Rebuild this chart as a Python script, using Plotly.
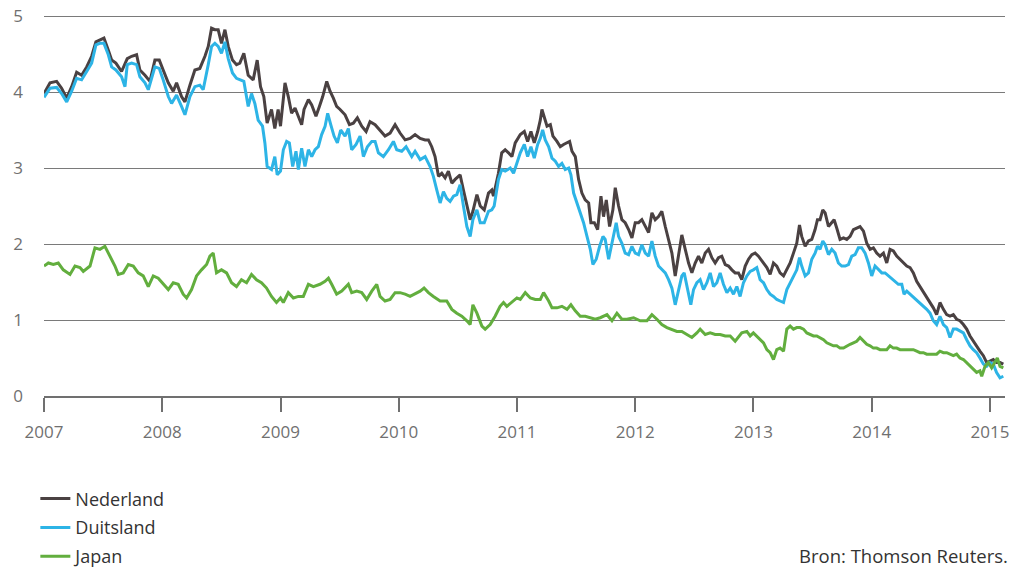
import plotly.graph_objects as go

# ---- Data (10-year government bond yields, %) ----
nl_x = [2007.00, 2007.051, 2007.107, 2007.149, 2007.192, 2007.234, 2007.276, 2007.318, 2007.361, 2007.403,
        2007.439, 2007.473, 2007.507, 2007.544, 2007.572, 2007.608, 2007.656, 2007.704, 2007.741, 2007.783,
        2007.811, 2007.854, 2007.896, 2007.938, 2007.975, 2008.008, 2008.051, 2008.093, 2008.121, 2008.163,
        2008.192, 2008.234, 2008.276, 2008.318, 2008.361, 2008.389, 2008.417, 2008.445, 2008.473, 2008.501,
        2008.530, 2008.558, 2008.594, 2008.628, 2008.656, 2008.690, 2008.727, 2008.769, 2008.803, 2008.831,
        2008.859, 2008.887, 2008.924, 2008.952, 2008.980,
        2009.000, 2009.038, 2009.066, 2009.094, 2009.123, 2009.151, 2009.179, 2009.199, 2009.236, 2009.264,
        2009.300, 2009.329, 2009.357, 2009.391, 2009.419, 2009.447, 2009.475, 2009.504, 2009.546, 2009.583,
        2009.616, 2009.650, 2009.687, 2009.724, 2009.757, 2009.800, 2009.842, 2009.884, 2009.927, 2009.969,
        2010.011, 2010.054, 2010.096, 2010.138, 2010.181, 2010.223, 2010.251, 2010.279, 2010.307, 2010.336,
        2010.364, 2010.392, 2010.420, 2010.449, 2010.477, 2010.519, 2010.547, 2010.576, 2010.604, 2010.627,
        2010.661, 2010.689, 2010.723, 2010.759, 2010.787, 2010.801, 2010.843, 2010.871, 2010.900, 2010.928,
        2010.957, 2010.985,
        2011.028, 2011.062, 2011.090, 2011.118, 2011.146, 2011.175, 2011.197, 2011.211, 2011.231, 2011.254,
        2011.282, 2011.304, 2011.338, 2011.366, 2011.394, 2011.423, 2011.445, 2011.465, 2011.493, 2011.521,
        2011.549, 2011.577, 2011.606, 2011.625, 2011.654, 2011.682, 2011.710, 2011.732, 2011.755, 2011.783,
        2011.811, 2011.831, 2011.859, 2011.887, 2011.915, 2011.944, 2011.972, 2012.000, 2012.028, 2012.056,
        2012.085, 2012.113, 2012.141, 2012.169, 2012.197, 2012.225, 2012.254, 2012.282, 2012.310, 2012.338,
        2012.366, 2012.394, 2012.423, 2012.451, 2012.479, 2012.507, 2012.535, 2012.563, 2012.592, 2012.620,
        2012.648, 2012.676, 2012.704, 2012.732, 2012.761, 2012.789, 2012.817, 2012.845, 2012.873, 2012.901,
        2012.930, 2012.958, 2012.986, 2013.014, 2013.042,
        2013.085, 2013.113, 2013.141, 2013.169, 2013.197, 2013.225, 2013.254, 2013.282, 2013.310, 2013.338,
        2013.366, 2013.389, 2013.408, 2013.437, 2013.465, 2013.493, 2013.521, 2013.541, 2013.563, 2013.586,
        2013.606, 2013.634, 2013.662, 2013.682, 2013.704, 2013.732, 2013.761, 2013.789, 2013.817, 2013.845,
        2013.873, 2013.901, 2013.930, 2013.958, 2013.986, 2014.014, 2014.042, 2014.070, 2014.099, 2014.127,
        2014.155, 2014.183, 2014.211, 2014.239, 2014.268, 2014.296, 2014.324, 2014.352, 2014.380, 2014.408,
        2014.437, 2014.465, 2014.493, 2014.521, 2014.549, 2014.577, 2014.606, 2014.634, 2014.662, 2014.690,
        2014.718, 2014.746, 2014.775, 2014.803, 2014.831, 2014.859, 2014.887, 2014.915, 2014.944, 2014.972,
        2015.000, 2015.028, 2015.056, 2015.085, 2015.113]
nl_y = [3.98, 4.12, 4.14, 4.05, 3.92, 4.07, 4.26, 4.22, 4.33, 4.47,
        4.66, 4.69, 4.71, 4.55, 4.42, 4.38, 4.27, 4.44, 4.47, 4.49,
        4.29, 4.22, 4.14, 4.42, 4.42, 4.29, 4.12, 4.01, 4.12, 3.94,
        3.87, 4.09, 4.29, 4.31, 4.47, 4.60, 4.84, 4.82, 4.82, 4.64,
        4.82, 4.60, 4.42, 4.36, 4.38, 4.51, 4.22, 4.16, 4.42, 4.07,
        3.94, 3.59, 3.77, 3.52, 3.77,
        3.55, 4.12, 3.94, 3.72, 3.79, 3.68, 3.57, 3.77, 3.90, 3.83,
        3.68, 3.81, 3.94, 4.14, 4.01, 3.92, 3.81, 3.77, 3.70, 3.57,
        3.59, 3.66, 3.55, 3.48, 3.61, 3.57, 3.50, 3.42, 3.46, 3.57,
        3.46, 3.37, 3.39, 3.44, 3.39, 3.37, 3.37, 3.28, 3.15, 2.89,
        2.93, 2.87, 2.96, 2.80, 2.85, 2.91, 2.71, 2.50, 2.32, 2.43,
        2.65, 2.50, 2.45, 2.67, 2.71, 2.63, 2.93, 3.20, 3.24, 3.20,
        3.15, 3.33,
        3.44, 3.48, 3.35, 3.48, 3.33, 3.48, 3.63, 3.77, 3.68, 3.55,
        3.57, 3.42, 3.35, 3.28, 3.31, 3.33, 3.35, 3.22, 3.15, 2.85,
        2.67, 2.58, 2.54, 2.28, 2.28, 2.19, 2.63, 2.36, 2.58, 2.23,
        2.45, 2.74, 2.50, 2.32, 2.28, 2.19, 2.08, 2.28, 2.28, 2.32,
        2.23, 2.15, 2.41, 2.32, 2.36, 2.43, 2.23, 2.06, 1.88, 1.58,
        1.84, 2.12, 1.93, 1.75, 1.62, 1.75, 1.84, 1.75, 1.88, 1.93,
        1.82, 1.75, 1.82, 1.84, 1.73, 1.71, 1.66, 1.62, 1.62, 1.53,
        1.71, 1.80, 1.86, 1.88, 1.84,
        1.75, 1.69, 1.60, 1.75, 1.71, 1.62, 1.58, 1.66, 1.75, 1.88,
        2.01, 2.25, 2.10, 1.97, 2.04, 2.06, 2.19, 2.32, 2.32, 2.45,
        2.41, 2.23, 2.28, 2.32, 2.21, 2.06, 2.08, 2.06, 2.10, 2.19,
        2.21, 2.23, 2.17, 2.01, 1.93, 1.95, 1.88, 1.84, 1.88, 1.75,
        1.93, 1.91, 1.84, 1.80, 1.75, 1.71, 1.69, 1.62, 1.51, 1.44,
        1.38, 1.31, 1.23, 1.16, 1.07, 1.23, 1.14, 1.07, 1.05, 1.07,
        1.01, 0.99, 0.94, 0.88, 0.79, 0.72, 0.66, 0.59, 0.53, 0.44,
        0.46, 0.48, 0.44, 0.44, 0.42]

de_x = [2007.00, 2007.051, 2007.107, 2007.149, 2007.192, 2007.234, 2007.276, 2007.318, 2007.361, 2007.403,
        2007.439, 2007.473, 2007.507, 2007.544, 2007.572, 2007.608, 2007.656, 2007.685, 2007.704, 2007.741,
        2007.783, 2007.811, 2007.854, 2007.882, 2007.938, 2007.975, 2008.008, 2008.051, 2008.079, 2008.121,
        2008.163, 2008.192, 2008.234, 2008.276, 2008.318, 2008.346, 2008.389, 2008.417, 2008.445, 2008.473,
        2008.501, 2008.530, 2008.558, 2008.594, 2008.628, 2008.656, 2008.690, 2008.727, 2008.755, 2008.783,
        2008.811, 2008.848, 2008.868, 2008.887, 2008.924, 2008.952, 2008.972,
        2009.000, 2009.024, 2009.052, 2009.075, 2009.103, 2009.131, 2009.151, 2009.179, 2009.207, 2009.236,
        2009.264, 2009.292, 2009.320, 2009.348, 2009.377, 2009.399, 2009.425, 2009.453, 2009.481, 2009.509,
        2009.546, 2009.574, 2009.602, 2009.639, 2009.673, 2009.701, 2009.735, 2009.772, 2009.800, 2009.828,
        2009.870, 2009.913, 2009.955, 2009.983, 2010.025, 2010.062, 2010.110, 2010.138, 2010.181, 2010.223,
        2010.265, 2010.293, 2010.322, 2010.350, 2010.378, 2010.406, 2010.434, 2010.463, 2010.491, 2010.519,
        2010.547, 2010.576, 2010.604, 2010.627, 2010.661, 2010.689, 2010.723, 2010.759, 2010.787, 2010.807,
        2010.843, 2010.871, 2010.900, 2010.943, 2010.971,
        2011.028, 2011.062, 2011.090, 2011.118, 2011.146, 2011.175, 2011.197, 2011.217, 2011.239, 2011.268,
        2011.296, 2011.324, 2011.352, 2011.380, 2011.408, 2011.437, 2011.456, 2011.479, 2011.507, 2011.535,
        2011.563, 2011.592, 2011.620, 2011.642, 2011.670, 2011.699, 2011.727, 2011.746, 2011.775, 2011.803,
        2011.839, 2011.859, 2011.887, 2011.915, 2011.944, 2011.972, 2012.000, 2012.028, 2012.056, 2012.085,
        2012.113, 2012.141, 2012.169, 2012.197, 2012.225, 2012.254, 2012.282, 2012.310, 2012.338, 2012.366,
        2012.394, 2012.414, 2012.437, 2012.470, 2012.493, 2012.521, 2012.549, 2012.577, 2012.606, 2012.634,
        2012.662, 2012.690, 2012.718, 2012.746, 2012.775, 2012.803, 2012.831, 2012.859, 2012.887, 2012.915,
        2012.944, 2012.972, 2012.999, 2013.028, 2013.056,
        2013.085, 2013.113, 2013.141, 2013.169, 2013.197, 2013.225, 2013.254, 2013.282, 2013.310, 2013.338,
        2013.366, 2013.389, 2013.408, 2013.437, 2013.465, 2013.493, 2013.521, 2013.541, 2013.563, 2013.586,
        2013.606, 2013.634, 2013.662, 2013.690, 2013.718, 2013.746, 2013.775, 2013.803, 2013.831, 2013.859,
        2013.887, 2013.915, 2013.944, 2013.972, 2014.000, 2014.028, 2014.056, 2014.085, 2014.113, 2014.141,
        2014.169, 2014.197, 2014.225, 2014.254, 2014.273, 2014.296, 2014.324, 2014.352, 2014.380, 2014.408,
        2014.437, 2014.465, 2014.493, 2014.521, 2014.549, 2014.577, 2014.606, 2014.634, 2014.662, 2014.690,
        2014.718, 2014.746, 2014.775, 2014.803, 2014.831, 2014.859, 2014.887, 2014.915, 2014.944, 2014.972,
        2015.000, 2015.028, 2015.056, 2015.085, 2015.113]
de_y = [3.93, 4.05, 4.06, 3.98, 3.87, 4.01, 4.18, 4.16, 4.27, 4.38,
        4.62, 4.64, 4.64, 4.49, 4.33, 4.29, 4.20, 4.07, 4.36, 4.38,
        4.36, 4.20, 4.12, 4.03, 4.33, 4.31, 4.16, 3.94, 3.85, 3.96,
        3.81, 3.70, 3.94, 4.07, 4.09, 4.03, 4.36, 4.60, 4.64, 4.60,
        4.51, 4.66, 4.44, 4.25, 4.18, 4.16, 4.14, 3.81, 3.98, 3.85,
        3.63, 3.55, 3.33, 3.02, 2.98, 3.15, 2.91,
        2.96, 3.24, 3.35, 3.33, 3.02, 3.22, 2.98, 3.26, 3.02, 3.24,
        3.15, 3.24, 3.28, 3.44, 3.55, 3.72, 3.57, 3.42, 3.33, 3.50,
        3.42, 3.52, 3.24, 3.31, 3.42, 3.15, 3.28, 3.35, 3.35, 3.20,
        3.15, 3.24, 3.35, 3.24, 3.22, 3.28, 3.15, 3.22, 3.11, 3.15,
        3.02, 2.89, 2.71, 2.54, 2.69, 2.60, 2.56, 2.63, 2.65, 2.78,
        2.50, 2.23, 2.10, 2.32, 2.45, 2.28, 2.28, 2.43, 2.45, 2.50,
        2.85, 2.98, 2.96, 3.00, 2.93,
        3.20, 3.31, 3.15, 3.28, 3.13, 3.31, 3.39, 3.50, 3.37, 3.28,
        3.13, 3.09, 3.02, 3.06, 2.98, 3.00, 2.91, 2.67, 2.54, 2.39,
        2.28, 2.10, 1.93, 1.73, 1.80, 1.97, 2.10, 2.06, 1.80, 2.01,
        2.28, 2.10, 2.01, 1.88, 1.86, 1.97, 1.88, 1.86, 1.99, 1.88,
        1.84, 2.04, 1.84, 1.71, 1.66, 1.62, 1.53, 1.42, 1.20, 1.40,
        1.58, 1.62, 1.44, 1.20, 1.40, 1.49, 1.53, 1.40, 1.49, 1.62,
        1.44, 1.49, 1.62, 1.47, 1.36, 1.42, 1.34, 1.44, 1.31, 1.49,
        1.58, 1.64, 1.66, 1.69, 1.53,
        1.49, 1.40, 1.34, 1.31, 1.27, 1.25, 1.23, 1.40, 1.49, 1.58,
        1.66, 1.82, 1.71, 1.58, 1.62, 1.80, 1.88, 1.97, 1.93, 2.04,
        1.99, 1.86, 1.93, 1.88, 1.75, 1.71, 1.71, 1.73, 1.84, 1.86,
        1.95, 1.95, 1.88, 1.75, 1.58, 1.71, 1.66, 1.62, 1.62, 1.58,
        1.55, 1.51, 1.47, 1.47, 1.34, 1.38, 1.34, 1.31, 1.27, 1.23,
        1.18, 1.14, 1.09, 0.99, 0.94, 1.05, 0.94, 0.90, 0.77, 0.88,
        0.88, 0.85, 0.83, 0.74, 0.66, 0.61, 0.57, 0.50, 0.42, 0.39,
        0.44, 0.42, 0.31, 0.24, 0.26]

jp_x = [2007.00, 2007.037, 2007.079, 2007.121, 2007.163, 2007.220, 2007.262, 2007.304, 2007.332, 2007.389,
        2007.431, 2007.473, 2007.515, 2007.558, 2007.600, 2007.628, 2007.670, 2007.713, 2007.755, 2007.797,
        2007.839, 2007.882, 2007.924, 2007.966, 2008.008, 2008.051, 2008.093, 2008.135, 2008.177, 2008.206,
        2008.248, 2008.290, 2008.332, 2008.375, 2008.403, 2008.431, 2008.459, 2008.501, 2008.544, 2008.586,
        2008.628, 2008.670, 2008.713, 2008.755, 2008.797, 2008.839, 2008.882, 2008.924, 2008.966,
        2009.000, 2009.024, 2009.066, 2009.109, 2009.151, 2009.193, 2009.236, 2009.278, 2009.334, 2009.377,
        2009.405, 2009.433, 2009.475, 2009.518, 2009.574, 2009.602, 2009.645, 2009.687, 2009.729, 2009.772,
        2009.814, 2009.842, 2009.884, 2009.927, 2009.969, 2010.011, 2010.054, 2010.096, 2010.138, 2010.181,
        2010.214, 2010.251, 2010.293, 2010.350, 2010.406, 2010.449, 2010.491, 2010.533, 2010.576, 2010.604,
        2010.627, 2010.661, 2010.703, 2010.731, 2010.773, 2010.815, 2010.857, 2010.886, 2010.914, 2010.957,
        2010.999,
        2011.028, 2011.070, 2011.113, 2011.155, 2011.197, 2011.225, 2011.268, 2011.296, 2011.338, 2011.380,
        2011.423, 2011.456, 2011.493, 2011.535, 2011.577, 2011.620, 2011.662, 2011.704, 2011.761, 2011.803,
        2011.845, 2011.887, 2011.930, 2011.986, 2012.042, 2012.099, 2012.141, 2012.183, 2012.225, 2012.268,
        2012.310, 2012.352, 2012.394, 2012.437, 2012.479, 2012.521, 2012.549, 2012.592, 2012.634, 2012.676,
        2012.718, 2012.761, 2012.803, 2012.845, 2012.873, 2012.901, 2012.944, 2012.972, 2012.999, 2013.042,
        2013.085, 2013.113, 2013.141, 2013.169, 2013.197, 2013.225, 2013.254, 2013.282, 2013.310, 2013.338,
        2013.366, 2013.394, 2013.423, 2013.451, 2013.479, 2013.507, 2013.535, 2013.563, 2013.592, 2013.620,
        2013.648, 2013.676, 2013.704, 2013.732, 2013.761, 2013.789, 2013.817, 2013.845, 2013.873, 2013.901,
        2013.930, 2013.958, 2013.986, 2014.014, 2014.042, 2014.070, 2014.099, 2014.127, 2014.155, 2014.183,
        2014.211, 2014.239, 2014.268, 2014.296, 2014.324, 2014.352, 2014.380, 2014.408, 2014.437, 2014.465,
        2014.493, 2014.521, 2014.549, 2014.577, 2014.606, 2014.634, 2014.662, 2014.690, 2014.718, 2014.746,
        2014.775, 2014.803, 2014.831, 2014.859, 2014.887, 2014.915, 2014.930, 2014.958, 2014.986, 2015.014,
        2015.042, 2015.062, 2015.085, 2015.113]
jp_y = [1.71, 1.75, 1.73, 1.75, 1.66, 1.60, 1.71, 1.69, 1.64, 1.71,
        1.95, 1.93, 1.97, 1.84, 1.71, 1.60, 1.62, 1.73, 1.71, 1.62,
        1.58, 1.44, 1.58, 1.55, 1.47, 1.40, 1.49, 1.47, 1.34, 1.29,
        1.40, 1.58, 1.66, 1.73, 1.84, 1.88, 1.62, 1.66, 1.62, 1.49,
        1.44, 1.53, 1.49, 1.60, 1.53, 1.49, 1.42, 1.31, 1.23,
        1.29, 1.23, 1.36, 1.29, 1.31, 1.31, 1.47, 1.44, 1.47, 1.51,
        1.55, 1.47, 1.34, 1.38, 1.47, 1.36, 1.38, 1.36, 1.27, 1.38,
        1.47, 1.31, 1.25, 1.27, 1.36, 1.36, 1.34, 1.31, 1.34, 1.38,
        1.42, 1.36, 1.31, 1.25, 1.25, 1.14, 1.09, 1.05, 0.99, 0.94,
        1.20, 1.09, 0.92, 0.88, 0.94, 1.05, 1.18, 1.23, 1.18, 1.23,
        1.29,
        1.27, 1.36, 1.29, 1.27, 1.27, 1.36, 1.25, 1.16, 1.16, 1.18,
        1.14, 1.20, 1.12, 1.05, 1.05, 1.03, 1.01, 1.03, 1.07, 0.99,
        1.09, 1.01, 1.01, 1.03, 0.99, 0.99, 1.07, 1.01, 0.94, 0.90,
        0.88, 0.85, 0.85, 0.81, 0.77, 0.83, 0.88, 0.81, 0.83, 0.81,
        0.81, 0.79, 0.79, 0.72, 0.77, 0.83, 0.85, 0.79, 0.83, 0.77,
        0.70, 0.61, 0.57, 0.48, 0.61, 0.63, 0.59, 0.88, 0.92, 0.88,
        0.90, 0.90, 0.88, 0.83, 0.81, 0.79, 0.79, 0.77, 0.74, 0.70,
        0.68, 0.66, 0.66, 0.63, 0.63, 0.66, 0.68, 0.70, 0.72, 0.77,
        0.72, 0.68, 0.66, 0.63, 0.63, 0.61, 0.61, 0.61, 0.66, 0.63,
        0.63, 0.61, 0.61, 0.61, 0.61, 0.61, 0.59, 0.57, 0.57, 0.55,
        0.55, 0.55, 0.55, 0.59, 0.57, 0.57, 0.55, 0.53, 0.55, 0.50,
        0.48, 0.44, 0.39, 0.35, 0.31, 0.33, 0.26, 0.39, 0.44, 0.37,
        0.44, 0.50, 0.39, 0.37]

year_ticks = [2007, 2008, 2009, 2010, 2011, 2012, 2013, 2014, 2015]
yield_ticks = [0, 1, 2, 3, 4, 5]

series = [
    ("Nederland", nl_x, nl_y, "#4a4142"),
    ("Duitsland", de_x, de_y, "#2db4e6"),
    ("Japan", jp_x, jp_y, "#62ae3e"),
]

fig = go.Figure()
for name, xs, ys, col in series:
    fig.add_trace(go.Scatter(x=xs, y=ys, name=name, mode="lines", legendgroup=name,
                             line=dict(color=col, width=3)))

FONT = "Open Sans, Noto Sans, sans-serif"
fig.update_layout(
    width=1010, height=568,
    margin=dict(l=44, r=5, t=14, b=172, autoexpand=False),
    paper_bgcolor="white", plot_bgcolor="white",
    font=dict(family=FONT, size=18, color="#333333"),
    showlegend=True,
    legend=dict(orientation="v", x=-0.009, xanchor="left", y=-0.2207, yanchor="top",
                traceorder="grouped", tracegroupgap=2.5,
                font=dict(size=18, color="#333333"), bgcolor="rgba(0,0,0,0)"),
    xaxis=dict(range=[2007, 2015.127], tickvals=year_ticks,
               ticktext=[str(v) for v in year_ticks],
               showgrid=False, zeroline=False, showline=True,
               linecolor="#707070", linewidth=2,
               ticks="outside", ticklen=14, tickwidth=2, tickcolor="#707070",
               ticklabelstandoff=6, ticklabeloverflow="allow",
               tickfont=dict(size=17, color="#707070")),
    yaxis=dict(range=[0, 5.0263], tickvals=yield_ticks,
               ticktext=[str(v) for v in yield_ticks],
               showgrid=True, gridcolor="#7a7a7a", gridwidth=1,
               zeroline=False, showline=False, ticks="",
               ticklabelstandoff=20, ticklabeloverflow="allow",
               tickfont=dict(size=17, color="#707070")),
    annotations=[dict(text="Bron: Thomson Reuters.", xref="paper", yref="paper",
                      x=1.0052, y=-0.4188, xanchor="right", yanchor="middle",
                      showarrow=False, font=dict(size=18.5, color="#333333"))],
)

# Remove the browser's default 8px page margin so the 1010x568 figure fills the window.
fig.write_html("out.html",
               config={"displayModeBar": False},
               post_script="document.body.style.margin='0';document.body.style.overflow='hidden';")
